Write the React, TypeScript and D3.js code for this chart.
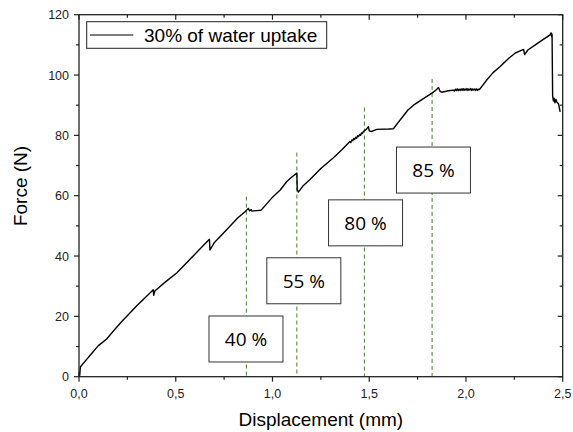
import React from "react";
import * as d3 from "d3";

const curveX = [
  0.0, 0.002, 0.004, 0.006, 0.008, 0.03, 0.06, 0.1, 0.12, 0.143, 0.18, 0.22, 0.3, 0.36, 0.384, 0.386, 0.392,
  0.45, 0.505, 0.56, 0.62, 0.674, 0.677, 0.7, 0.763, 0.82, 0.858, 0.875, 0.882, 0.89, 0.893, 0.94, 0.945,
  0.97, 0.996, 1.04, 1.074, 1.1, 1.126, 1.128, 1.134, 1.16, 1.194, 1.25, 1.315, 1.36, 1.4, 1.405, 1.41,
  1.415, 1.42, 1.425, 1.43, 1.435, 1.44, 1.445, 1.45, 1.455, 1.46, 1.465, 1.47,
  1.485, 1.496, 1.5, 1.513, 1.539, 1.6, 1.625,
  1.65, 1.677, 1.7, 1.729, 1.78, 1.824, 1.845, 1.858, 1.866, 1.875, 1.91, 1.935,
  1.94, 1.945, 1.95, 1.955, 1.96, 1.965, 1.97,
  1.975, 1.98, 1.985, 1.99, 1.995, 2.0, 2.005, 2.01, 2.015, 2.02, 2.025, 2.03, 2.035, 2.04, 2.045, 2.05, 2.055, 2.06, 2.065, 2.07,
  2.108, 2.14, 2.177, 2.22, 2.255, 2.28, 2.298,
  2.303, 2.308, 2.32, 2.358, 2.4, 2.435, 2.44, 2.443, 2.445, 2.447, 2.448, 2.452, 2.456, 2.46, 2.465, 2.47,
  2.478, 2.487,
];
const curveY = [
  0.0, 1.5, 0.5, 2.5, 3.3, 5.0, 7.3, 10.3, 11.3, 12.5, 15.3, 18.2, 23.6, 27.3, 28.8, 27.0, 28.4,
  31.6, 34.4, 38.0, 42.0, 45.6, 42.0, 44.5, 48.7, 52.6, 54.7, 55.8, 55.0, 55.4, 54.9, 55.2, 55.5,
  57.3, 59.2, 61.9, 64.7, 66.2, 67.5, 62.0, 61.2, 63.4, 65.4, 69.0, 72.6, 75.3, 78.0, 77.6, 78.5,
  78.2, 79.0, 78.6, 79.4, 79.0, 79.9, 79.6, 80.3, 80.0, 80.8, 80.6, 81.3,
  82.0, 82.9, 81.5, 81.3, 82.0, 82.1, 82.2,
  84.3, 86.5, 88.4, 90.0, 92.2, 94.0, 95.0, 95.9, 94.6, 94.3, 94.8, 95.0,
  94.7, 95.3, 94.8, 95.4, 94.8, 95.3, 94.9,
  95.4, 94.9, 95.5, 94.9, 95.4, 95.0, 95.5, 94.9, 95.4, 95.0, 95.5, 94.9, 95.4, 95.0, 95.4, 94.9, 95.4, 94.9, 95.3, 95.2,
  98.4, 100.8, 102.8, 105.5, 107.3, 108.0, 108.5,
  106.8, 107.2, 108.3, 110.0, 111.8, 113.3, 114.0, 112.8, 113.5, 100.0, 93.0, 91.4, 92.3, 90.8, 91.9, 91.0,
  90.5, 87.8,
];

const seriesName = "30% of water uptake";
const markerX = [0.865, 1.126, 1.475, 1.825];
const markerTop = [59.7, 74.3, 89.2, 98.7];
const labelText = ["40 %", "55 %", "80 %", "85 %"];
const labelX = [0.863, 1.162, 1.481, 1.832];
const labelY = [12.5, 31.8, 51.0, 68.5];

const xMajor = [0, 0.5, 1.0, 1.5, 2.0, 2.5];
const xMinor = [0.25, 0.75, 1.25, 1.75, 2.25];
const yMajor = [0, 20, 40, 60, 80, 100, 120];
const yMinor = [10, 30, 50, 70, 90, 110];

export default function App() {
  const W = 573, H = 432;
  const L = 79, R = 562.7, T = 14.7, B = 376.7;
  const x = d3.scaleLinear().domain([0, 2.5]).range([L, R]);
  const y = d3.scaleLinear().domain([0, 120]).range([B, T]);
  const n = Math.min(curveX.length, curveY.length);
  const pts = curveX.slice(0, n).map((v, i) => [v, curveY[i]] as [number, number]);
  const line = d3.line<[number, number]>().x((d) => x(d[0])).y((d) => y(d[1]));
  const fmt = (v: number) => d3.format(".1f")(v).replace(".", ",");
  const font = "'Liberation Sans', Arial, sans-serif";
  const axisColor = "#222";
  const boxW = 74, boxH = 46;

  return (
    <svg width={W} height={H} style={{ position: "absolute", left: 0, top: 0, background: "#fff" }}>
      <rect x={0} y={0} width={W} height={H} fill="#fff" />
      {markerX.map((m, i) => (
        <line key={"m" + i} x1={x(m)} x2={x(m)} y1={y(markerTop[i])} y2={B}
          stroke="#4a7a30" strokeWidth={1} strokeDasharray="4,3" />
      ))}
      <path d={line(pts) || ""} fill="none" stroke="#000" strokeWidth={1.4} strokeLinejoin="round" />
      {labelText.map((t, i) => (
        <g key={"b" + i}>
          <rect x={x(labelX[i]) - boxW / 2} y={y(labelY[i]) - boxH / 2} width={boxW} height={boxH}
            fill="#fff" stroke="#333" strokeWidth={1} />
          <text x={x(labelX[i])} y={y(labelY[i]) + 7} textAnchor="middle"
            fontFamily="'Open Sans', sans-serif" fontSize={19} fill="#000">{t}</text>
        </g>
      ))}
      <rect x={L} y={T} width={R - L} height={B - T} fill="none" stroke={axisColor} strokeWidth={1.3} />
      {xMajor.map((v) => (
        <g key={"xM" + v}>
          <line x1={x(v)} x2={x(v)} y1={B} y2={B + 5} stroke={axisColor} strokeWidth={1.2} />
          <line x1={x(v)} x2={x(v)} y1={T} y2={T + 5} stroke={axisColor} strokeWidth={1.2} />
          <text x={x(v)} y={B + 21.5} textAnchor="middle" fontFamily={font} fontSize={12.5} fill="#222">{fmt(v)}</text>
        </g>
      ))}
      {xMinor.map((v) => (
        <g key={"xm" + v}>
          <line x1={x(v)} x2={x(v)} y1={B} y2={B + 3} stroke={axisColor} strokeWidth={1.2} />
          <line x1={x(v)} x2={x(v)} y1={T} y2={T + 3} stroke={axisColor} strokeWidth={1.2} />
        </g>
      ))}
      {yMajor.map((v) => (
        <g key={"yM" + v}>
          <line x1={L - 5} x2={L} y1={y(v)} y2={y(v)} stroke={axisColor} strokeWidth={1.2} />
          <line x1={R - 5} x2={R} y1={y(v)} y2={y(v)} stroke={axisColor} strokeWidth={1.2} />
          <text x={L - 10} y={y(v) + 4.5} textAnchor="end" fontFamily={font} fontSize={12.5} fill="#222">{v}</text>
        </g>
      ))}
      {yMinor.map((v) => (
        <g key={"ym" + v}>
          <line x1={L - 3} x2={L} y1={y(v)} y2={y(v)} stroke={axisColor} strokeWidth={1.2} />
          <line x1={R - 3} x2={R} y1={y(v)} y2={y(v)} stroke={axisColor} strokeWidth={1.2} />
        </g>
      ))}
      <text x={(L + R) / 2} y={426} textAnchor="middle" fontFamily={font} fontSize={19} fill="#000">Displacement (mm)</text>
      <text transform={`translate(26.7,186) rotate(-90)`} textAnchor="middle" fontFamily={font} fontSize={19} fill="#000">Force (N)</text>
      <rect x={86.7} y={21.7} width={240} height={26.6} fill="#fff" stroke="#222" strokeWidth={1} />
      <line x1={90} x2={133.3} y1={35} y2={35} stroke="#000" strokeWidth={1.2} />
      <text x={144} y={42} fontFamily={font} fontSize={19} fill="#000">{seriesName}</text>
    </svg>
  );
}
